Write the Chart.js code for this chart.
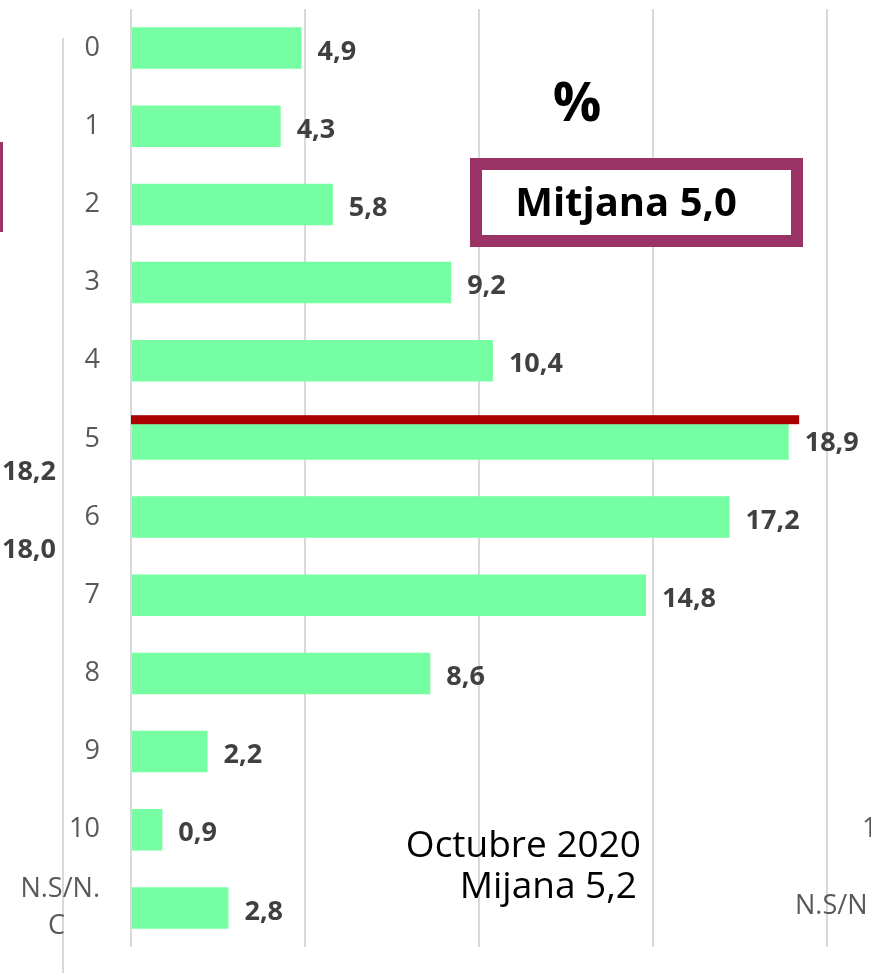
<!DOCTYPE html>
<html>
<head>
<meta charset="utf-8">
<script src="https://cdn.jsdelivr.net/npm/chart.js@4/dist/chart.umd.min.js"></script>
<style>
  html, body { margin: 0; padding: 0; background: #ffffff; }
  #wrap { width: 871px; height: 973px; position: relative; }
</style>
</head>
<body>
<div id="wrap"><canvas id="c" width="871" height="973"></canvas></div>
<script>
// ---- data ----
const categories = ['0', '1', '2', '3', '4', '5', '6', '7', '8', '9', '10', ['N.S/N.', 'C     ']];
const values = [4.9, 4.3, 5.8, 9.2, 10.4, 18.9, 17.2, 14.8, 8.6, 2.2, 0.9, 2.8];
const valueLabels = values.map(v => v.toFixed(1).replace('.', ','));
const axisMin = 0;
const axisMax = 20;
const axisStep = 5;

// ---- annotations ----
const percentTitle = '%';
const meanBoxText = 'Mitjana 5,0';
const previousWaveLines = ['Octubre 2020', 'Mijana 5,2'];
const meanLineCategoryIndex = 5;
const meanLineEndValue = 19.2;
// fragments of the neighbouring charts cropped at the edges
const leftNeighbourLabels = ['18,2', '18,0'];
const rightNeighbourLabels = ['1', 'N.S/N'];

const FONT = '"Open Sans", "Liberation Sans", sans-serif';
const GREEN = '#76FFA2';
const PURPLE = '#993366';

const bgPlugin = {
  id: 'bg',
  beforeDraw(chart) {
    const ctx = chart.ctx;
    ctx.save();
    ctx.fillStyle = '#ffffff';
    ctx.fillRect(0, 0, chart.width, chart.height);
    // neighbouring chart fragments
    ctx.strokeStyle = '#D9D9D9';
    ctx.lineWidth = 2;
    ctx.beginPath();
    ctx.moveTo(63, 38);
    ctx.lineTo(63, 973);
    ctx.stroke();
    ctx.fillStyle = PURPLE;
    ctx.fillRect(0, 142, 3, 90);
    ctx.restore();
  }
};

const overlayPlugin = {
  id: 'overlay',
  afterDatasetsDraw(chart) {
    const ctx = chart.ctx;
    const meta = chart.getDatasetMeta(0);
    const xs = chart.scales.x;
    ctx.save();
    // value labels
    ctx.font = 'bold 27px ' + FONT;
    ctx.fillStyle = '#404040';
    ctx.textAlign = 'left';
    ctx.textBaseline = 'middle';
    meta.data.forEach((bar, i) => {
      ctx.fillText(valueLabels[i], bar.x + 16, bar.y + 4);
    });
    // red mean line on top of category 5
    const b = meta.data[meanLineCategoryIndex];
    const top = b.y - b.height / 2;
    const x0 = xs.getPixelForValue(axisMin);
    const x1 = xs.getPixelForValue(meanLineEndValue);
    ctx.fillStyle = '#AA0000';
    ctx.fillRect(x0, top - 3, x1 - x0, 9);
    ctx.restore();
  },
  afterDraw(chart) {
    const ctx = chart.ctx;
    ctx.save();
    // % title
    ctx.fillStyle = '#000000';
    ctx.font = 'bold 54px ' + FONT;
    ctx.textAlign = 'center';
    ctx.textBaseline = 'alphabetic';
    ctx.fillText(percentTitle, 577, 121);
    // mean box
    ctx.fillStyle = '#ffffff';
    ctx.fillRect(476, 164, 321, 77);
    ctx.strokeStyle = PURPLE;
    ctx.lineWidth = 12;
    ctx.strokeRect(476, 164, 321, 77);
    ctx.fillStyle = '#000000';
    ctx.font = 'bold 40px ' + FONT;
    ctx.fillText(meanBoxText, 626, 216);
    // previous wave text
    ctx.font = '37px ' + FONT;
    ctx.textAlign = 'right';
    ctx.fillText(previousWaveLines[0], 641, 857);
    ctx.fillText(previousWaveLines[1], 637, 898);
    // neighbour fragments
    ctx.font = 'bold 27px ' + FONT;
    ctx.fillStyle = '#404040';
    ctx.textAlign = 'right';
    ctx.textBaseline = 'middle';
    ctx.fillText(leftNeighbourLabels[0], 56, 472);
    ctx.fillText(leftNeighbourLabels[1], 56, 550);
    ctx.font = '27px ' + FONT;
    ctx.fillStyle = '#595959';
    ctx.textAlign = 'left';
    ctx.fillText(rightNeighbourLabels[0], 862, 829);
    ctx.fillText(rightNeighbourLabels[1], 795, 906);
    ctx.restore();
  }
};

new Chart(document.getElementById('c'), {
  type: 'bar',
  data: {
    labels: categories,
    datasets: [{
      data: values,
      backgroundColor: GREEN,
      borderWidth: 0,
      barPercentage: 0.53,
      categoryPercentage: 1.0
    }]
  },
  options: {
    indexAxis: 'y',
    responsive: false,
    animation: false,
    events: [],
    layout: { padding: { top: 9, right: 44, left: 0, bottom: 0 } },
    plugins: {
      legend: { display: false },
      tooltip: { enabled: false },
      title: { display: false }
    },
    scales: {
      x: {
        type: 'linear',
        min: axisMin,
        max: axisMax,
        ticks: { display: false, stepSize: axisStep },
        grid: { color: '#D9D9D9', lineWidth: 2, drawTicks: false },
        border: { display: false },
        afterFit(s) { s.height = 26; s.paddingLeft = 0; s.paddingRight = 0; }
      },
      y: {
        type: 'category',
        grid: { display: false, drawTicks: false },
        border: { display: false },
        ticks: {
          color: '#595959',
          font: { family: FONT, size: 27, lineHeight: 1.35 },
          padding: 31,
          autoSkip: false
        },
        afterFit(s) { s.width = 131; s.paddingTop = 0; s.paddingBottom = 0; }
      }
    }
  },
  plugins: [bgPlugin, overlayPlugin]
});
</script>
</body>
</html>
